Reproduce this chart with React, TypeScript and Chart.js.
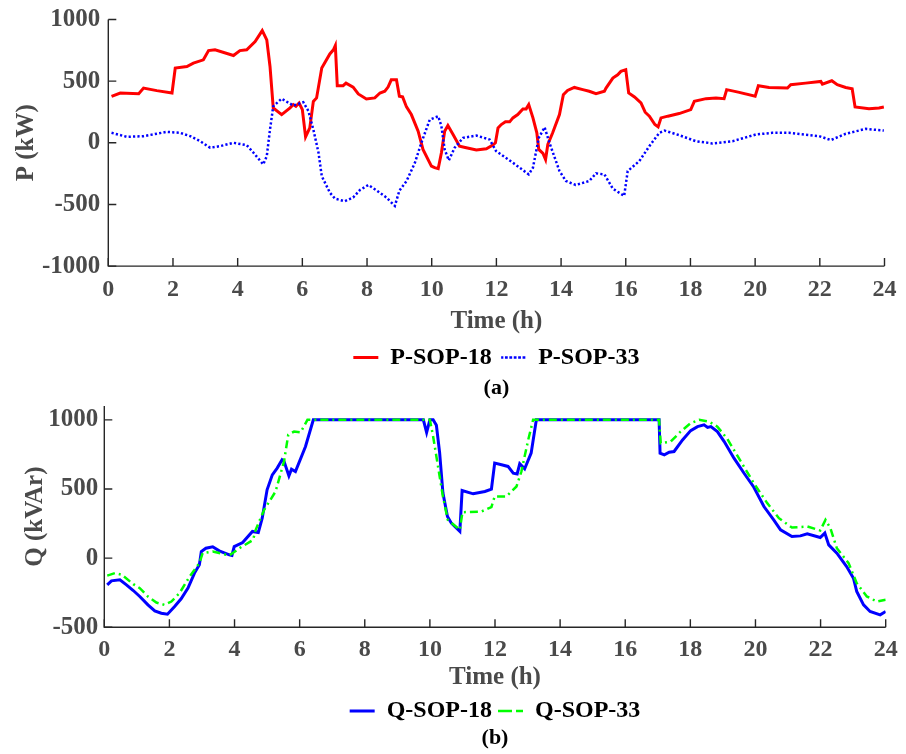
import React, { useEffect, useRef } from 'react';
import { Chart, registerables } from 'chart.js';

Chart.register(...registerables);

// ---------- data ----------
const xTicks = [0, 2, 4, 6, 8, 10, 12, 14, 16, 18, 20, 22, 24];
const pTicks = [-1000, -500, 0, 500, 1000];
const qTicks = [-500, 0, 500, 1000];

const p18Hours = [0.1, 0.37, 0.94, 1.09, 1.5, 1.97, 2.07, 2.43, 2.63, 2.94, 3.1, 3.3, 3.87, 4.07, 4.28, 4.54, 4.76, 4.9, 5.0, 5.1, 5.36, 5.62, 5.72, 5.8, 5.9, 6.0, 6.1, 6.23, 6.34, 6.44, 6.6, 6.85, 6.96, 7.02, 7.08, 7.26, 7.35, 7.57, 7.73, 7.98, 8.24, 8.4, 8.55, 8.65, 8.75, 8.91, 9.0, 9.1, 9.22, 9.37, 9.58, 9.73, 9.99, 10.09, 10.2, 10.3, 10.4, 10.5, 10.66, 10.86, 11.07, 11.38, 11.69, 11.89, 11.97, 12.05, 12.15, 12.28, 12.41, 12.51, 12.66, 12.82, 12.92, 13.0, 13.13, 13.25, 13.31, 13.44, 13.52, 13.59, 13.74, 13.95, 14.07, 14.2, 14.41, 14.67, 14.87, 15.08, 15.34, 15.39, 15.6, 15.75, 15.85, 16.0, 16.09, 16.27, 16.47, 16.6, 16.73, 16.9, 17.0, 17.09, 17.3, 17.65, 18.01, 18.12, 18.48, 18.79, 19.04, 19.12, 19.51, 20.0, 20.1, 20.43, 21.0, 21.1, 21.56, 22.03, 22.08, 22.37, 22.54, 22.8, 23.0, 23.09, 23.52, 23.83, 23.98];
const p18Values = [377, 404, 398, 444, 423, 404, 606, 619, 646, 673, 748, 754, 708, 748, 754, 821, 910, 835, 619, 283, 229, 283, 310, 296, 323, 269, 48, 121, 336, 364, 606, 721, 754, 789, 463, 463, 484, 452, 396, 355, 364, 404, 418, 452, 511, 511, 377, 372, 291, 229, 94, -54, -189, -202, -210, -81, 94, 140, 67, -27, -40, -59, -48, -19, 0, 121, 148, 170, 170, 202, 229, 275, 275, 310, 202, 81, -54, -86, -135, -13, 81, 229, 390, 425, 449, 431, 418, 398, 418, 444, 525, 552, 579, 593, 404, 372, 323, 248, 216, 148, 129, 202, 216, 237, 269, 336, 358, 364, 358, 431, 409, 377, 463, 449, 444, 471, 484, 498, 476, 503, 471, 449, 439, 291, 277, 283, 291];

const p33Hours = [0.1, 0.58, 1.09, 1.81, 2.22, 2.53, 2.84, 3.15, 3.46, 3.87, 4.28, 4.49, 4.79, 4.9, 5.0, 5.1, 5.36, 5.72, 6.03, 6.19, 6.34, 6.5, 6.6, 6.85, 7.01, 7.31, 7.57, 7.78, 8.04, 8.29, 8.6, 8.86, 9.0, 9.22, 9.48, 9.68, 9.94, 10.2, 10.3, 10.4, 10.53, 10.71, 10.97, 11.38, 11.79, 11.99, 12.51, 13.0, 13.13, 13.31, 13.49, 13.64, 13.95, 14.15, 14.45, 14.87, 15.08, 15.34, 15.6, 15.95, 16.06, 16.42, 16.73, 17.04, 17.2, 17.65, 18.17, 18.68, 19.3, 20.02, 20.53, 21.05, 21.98, 22.34, 22.8, 23.42, 23.98];
const p33Values = [81, 48, 54, 89, 81, 54, 13, -40, -27, 0, -19, -81, -175, -108, 108, 296, 358, 302, 329, 256, 108, -81, -270, -404, -453, -474, -444, -383, -342, -385, -444, -512, -388, -310, -162, 0, 188, 215, 135, -54, -143, -40, 40, 59, 27, -67, -162, -256, -202, 40, 126, 0, -229, -310, -342, -310, -248, -256, -372, -431, -229, -148, -27, 81, 99, 62, 13, -5, 13, 67, 81, 81, 54, 22, 73, 113, 99];

const q18Hours = [0.09, 0.22, 0.48, 0.68, 0.89, 1.09, 1.34, 1.55, 1.75, 1.94, 2.16, 2.36, 2.57, 2.77, 2.92, 2.98, 3.12, 3.33, 3.53, 3.84, 3.92, 3.99, 4.25, 4.55, 4.73, 4.85, 5.0, 5.16, 5.31, 5.46, 5.52, 5.67, 5.75, 5.87, 6.18, 6.42, 9.8, 9.9, 10.0, 10.1, 10.2, 10.3, 10.4, 10.54, 10.66, 10.92, 10.99, 11.33, 11.69, 11.89, 11.99, 12.2, 12.4, 12.56, 12.68, 12.76, 12.91, 13.11, 13.27, 17.04, 17.07, 17.2, 17.35, 17.5, 17.76, 18.01, 18.22, 18.42, 18.53, 18.63, 18.83, 19.04, 19.34, 19.65, 19.95, 20.26, 20.56, 20.77, 21.12, 21.38, 21.59, 21.99, 22.13, 22.25, 22.5, 22.8, 23.01, 23.11, 23.32, 23.52, 23.83, 24.0];
const q18Values = [-193, -164, -157, -193, -234, -277, -338, -381, -398, -405, -350, -294, -217, -108, -48, 48, 72, 82, 53, 24, 20, 84, 113, 193, 185, 289, 494, 602, 651, 711, 700, 595, 643, 626, 807, 1000, 1000, 908, 1000, 1000, 960, 761, 472, 301, 253, 193, 489, 465, 482, 499, 687, 675, 663, 614, 609, 682, 646, 759, 1000, 1000, 759, 747, 766, 771, 855, 922, 951, 964, 945, 951, 915, 843, 723, 614, 513, 373, 277, 205, 156, 161, 176, 149, 181, 96, 36, -61, -145, -241, -338, -386, -410, -386];

const q33Hours = [0.09, 0.33, 0.54, 0.89, 1.09, 1.34, 1.6, 1.85, 2.06, 2.31, 2.62, 2.92, 3.02, 3.33, 3.84, 4.15, 4.57, 4.65, 4.91, 5.26, 5.52, 5.65, 5.83, 6.03, 6.24, 10.0, 10.1, 10.4, 10.55, 10.92, 11.0, 11.58, 11.89, 11.99, 12.35, 12.5, 12.66, 12.81, 13.02, 13.17, 17.04, 17.09, 17.4, 17.7, 18.01, 18.27, 18.58, 18.83, 19.14, 19.55, 19.95, 20.36, 20.72, 21.12, 21.59, 21.99, 22.15, 22.3, 22.5, 22.86, 23.11, 23.42, 23.73, 24.0];
const q33Values = [-126, -108, -120, -188, -217, -277, -321, -338, -314, -253, -133, -36, 36, 48, 19, 72, 132, 205, 349, 482, 699, 892, 915, 910, 1000, 1000, 879, 446, 277, 205, 332, 337, 369, 446, 446, 482, 518, 626, 855, 1000, 1000, 831, 843, 915, 976, 1000, 986, 951, 860, 699, 542, 398, 289, 221, 229, 200, 277, 217, 72, -36, -181, -277, -314, -301];

// ---------- style ----------
const FONT = "'Liberation Serif', 'Times New Roman', serif";
const TICK_COLOR = '#4a4a4a';
const AXIS_COLOR = '#262626';

const toPoints = (xs: number[], ys: number[]) => xs.map((x, i) => ({ x, y: ys[i] }));

const matlabAxes = {
  id: 'matlabAxes',
  afterDatasetsDraw(chart: any) {
    const { ctx, scales } = chart;
    const x = scales.x;
    const y = scales.y;
    const left = x.getPixelForValue(x.min);
    const right = x.getPixelForValue(x.max);
    const top = y.getPixelForValue(y.max);
    const bottom = y.getPixelForValue(y.min);
    ctx.save();
    ctx.strokeStyle = AXIS_COLOR;
    ctx.lineWidth = 1.4;
    ctx.beginPath();
    ctx.moveTo(left, top);
    ctx.lineTo(left, bottom);
    ctx.lineTo(right, bottom);
    ctx.stroke();
    ctx.beginPath();
    x.ticks.forEach((t: any) => {
      const px = x.getPixelForValue(t.value);
      ctx.moveTo(px, bottom);
      ctx.lineTo(px, bottom - 8);
    });
    y.ticks.forEach((t: any) => {
      const py = y.getPixelForValue(t.value);
      ctx.moveTo(left, py);
      ctx.lineTo(left + 8, py);
    });
    ctx.stroke();
    ctx.restore();
  },
};

interface PanelSpec {
  datasets: any[];
  yMin: number;
  yMax: number;
  yTicks: number[];
  yTitle: string;
  caption: string;
  padTop: number;
  padRight: number;
  padBottom: number;
  yWidth: number;
  yTickPad: number;
  yTitlePad: number;
  xTickPad: number;
  xHeight: number;
  legendPad: number;
  captionPadTop: number;
}

function makeConfig(s: PanelSpec): any {
  return {
    type: 'line',
    data: { datasets: s.datasets },
    options: {
      animation: false,
      responsive: false,
      maintainAspectRatio: false,
      devicePixelRatio: 1,
      layout: { padding: { left: 0, right: s.padRight, top: s.padTop, bottom: s.padBottom } },
      elements: { point: { radius: 0 }, line: { tension: 0 } },
      scales: {
        x: {
          type: 'linear',
          min: 0,
          max: 24,
          afterBuildTicks: (sc: any) => {
            sc.ticks = xTicks.map((v) => ({ value: v }));
          },
          afterFit: (sc: any) => {
            sc.height = s.xHeight;
          },
          ticks: {
            autoSkip: false,
            maxRotation: 0,
            padding: s.xTickPad,
            color: TICK_COLOR,
            font: { family: FONT, size: 24, weight: 'bold' },
            callback: (v: any) => String(v),
          },
          grid: { display: false, drawTicks: false },
          border: { display: false },
          title: {
            display: true,
            text: 'Time (h)',
            color: TICK_COLOR,
            font: { family: FONT, size: 25, weight: 'bold' },
            padding: { top: 0, bottom: 0 },
          },
        },
        y: {
          type: 'linear',
          min: s.yMin,
          max: s.yMax,
          afterBuildTicks: (sc: any) => {
            sc.ticks = s.yTicks.map((v) => ({ value: v }));
          },
          afterFit: (sc: any) => {
            sc.width = s.yWidth;
            sc.paddingTop = 0;
            sc.paddingBottom = 0;
          },
          ticks: {
            padding: s.yTickPad,
            color: TICK_COLOR,
            font: { family: FONT, size: 25, weight: 'bold' },
            callback: (v: any) => String(v),
          },
          grid: { display: false, drawTicks: false },
          border: { display: false },
          title: {
            display: true,
            text: s.yTitle,
            color: TICK_COLOR,
            font: { family: FONT, size: 25, weight: 'bold' },
            padding: { top: s.yTitlePad, bottom: 0 },
          },
        },
      },
      plugins: {
        tooltip: { enabled: false },
        legend: {
          position: 'bottom',
          fullSize: false,
          labels: {
            usePointStyle: false,
            boxWidth: 25,
            boxHeight: 0,
            padding: s.legendPad,
            color: '#000000',
            font: { family: FONT, size: 24, weight: 'bold' },
            sort: (a: any, b: any) => a.datasetIndex - b.datasetIndex,
          },
        },
        title: {
          display: true,
          position: 'bottom',
          fullSize: false,
          text: s.caption,
          color: '#000000',
          font: { family: FONT, size: 22, weight: 'bold' },
          padding: { top: s.captionPadTop, bottom: 0 },
        },
      },
    },
    plugins: [matlabAxes],
  };
}

export default function App() {
  const topRef = useRef<HTMLCanvasElement>(null);
  const botRef = useRef<HTMLCanvasElement>(null);

  useEffect(() => {
    const topSpec: PanelSpec = {
      datasets: [
        {
          label: 'P-SOP-18',
          data: toPoints(p18Hours, p18Values),
          borderColor: '#ff0000',
          backgroundColor: 'rgba(0,0,0,0)',
          borderWidth: 3,
          pointRadius: 0,
          order: 1,
        },
        {
          label: 'P-SOP-33',
          data: toPoints(p33Hours, p33Values),
          borderColor: '#0000ff',
          backgroundColor: 'rgba(0,0,0,0)',
          borderWidth: 2.5,
          borderDash: [2.2, 2.2],
          pointRadius: 0,
          order: 0,
        },
      ],
      yMin: -1000,
      yMax: 1000,
      yTicks: pTicks,
      yTitle: 'P (kW)',
      caption: '(a)',
      padTop: 19.5,
      padRight: 20,
      padBottom: 0,
      yWidth: 108.3,
      yTickPad: 8,
      yTitlePad: 11.5,
      xTickPad: 9.5,
      xHeight: 70,
      legendPad: 9.5,
      captionPadTop: -4,
    };
    const botSpec: PanelSpec = {
      datasets: [
        {
          label: 'Q-SOP-18',
          data: toPoints(q18Hours, q18Values),
          borderColor: '#0000ff',
          backgroundColor: 'rgba(0,0,0,0)',
          borderWidth: 3,
          pointRadius: 0,
          order: 1,
        },
        {
          label: 'Q-SOP-33',
          data: toPoints(q33Hours, q33Values),
          borderColor: '#00ff00',
          backgroundColor: 'rgba(0,0,0,0)',
          borderWidth: 2.5,
          borderDash: [8, 4, 2, 4],
          pointRadius: 0,
          order: 0,
        },
      ],
      yMin: -500,
      yMax: 1100,
      yTicks: qTicks,
      yTitle: 'Q (kVAr)',
      caption: '(b)',
      padTop: 4,
      padRight: 16.7,
      padBottom: 2.8,
      yWidth: 104.3,
      yTickPad: 6,
      yTitlePad: 21,
      xTickPad: 8.3,
      xHeight: 65.7,
      legendPad: 6,
      captionPadTop: -8.2,
    };
    const c1 = new Chart(topRef.current as HTMLCanvasElement, makeConfig(topSpec));
    const c2 = new Chart(botRef.current as HTMLCanvasElement, makeConfig(botSpec));
    return () => {
      c1.destroy();
      c2.destroy();
    };
  }, []);

  return (
    <div style={{ position: 'absolute', left: 0, top: 0, width: 906, height: 754, background: '#ffffff' }}>
      <canvas ref={topRef} width={906} height={402} style={{ position: 'absolute', left: 0, top: 0, width: 906, height: 402 }} />
      <canvas ref={botRef} width={906} height={352} style={{ position: 'absolute', left: 0, top: 402, width: 906, height: 352 }} />
    </div>
  );
}
